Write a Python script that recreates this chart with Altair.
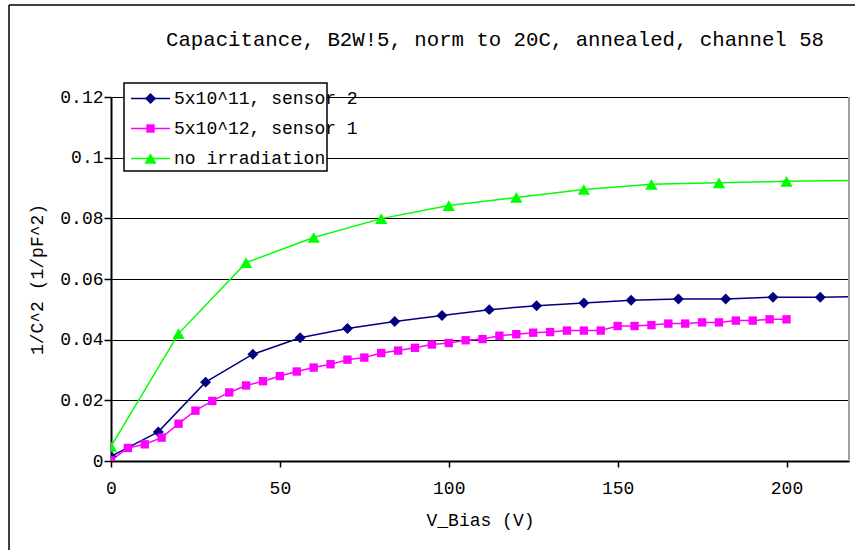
import altair as alt
import pandas as pd

# ---- text ---------------------------------------------------------------
TITLE = "Capacitance, B2W!5, norm to 20C, annealed, channel 58"
X_TITLE = "V_Bias (V)"
Y_TITLE = "1/C^2 (1/pF^2)"

# ---- series -------------------------------------------------------------
series_names = ["5x10^11, sensor 2", "5x10^12, sensor 1", "no irradiation"]
series_colors = ["#000080", "#FF00FF", "#00FF00"]
series_shapes = ["diamond", "square", "triangle-up"]
series_sizes = [120, 70, 150]

# 5x10^11, sensor 2 (last point lies just past the right edge of the axis)
bias_s2 = [0, 14, 28, 42, 56, 70, 84, 98, 112, 126, 140, 154, 168, 182, 196, 210, 224]
inv_c2_s2 = [0.0015, 0.0096, 0.0260, 0.0352, 0.0406, 0.0437, 0.0460, 0.0480, 0.0499,
             0.0512, 0.0521, 0.0530, 0.0534, 0.0534, 0.0540, 0.0540, 0.0543]

# 5x10^12, sensor 1
bias_s1 = [0, 5, 10, 15, 20, 25, 30, 35, 40, 45, 50, 55, 60, 65, 70, 75, 80, 85, 90, 95,
           100, 105, 110, 115, 120, 125, 130, 135, 140, 145, 150, 155, 160, 165, 170, 175,
           180, 185, 190, 195, 200]
inv_c2_s1 = [0.0002, 0.0043, 0.0055, 0.0077, 0.0123, 0.0166, 0.0198, 0.0226, 0.0249, 0.0263,
             0.0280, 0.0295, 0.0308, 0.0319, 0.0334, 0.0341, 0.0356, 0.0364, 0.0373, 0.0384,
             0.0389, 0.0398, 0.0402, 0.0413, 0.0418, 0.0423, 0.0425, 0.0430, 0.0430, 0.0430,
             0.0445, 0.0445, 0.0448, 0.0453, 0.0453, 0.0457, 0.0457, 0.0463, 0.0463, 0.0467,
             0.0467]

# no irradiation (last point lies just past the right edge of the axis)
bias_ref = [0, 20, 40, 60, 80, 100, 120, 140, 160, 180, 200, 220]
inv_c2_ref = [0.0048, 0.0420, 0.0654, 0.0737, 0.0799, 0.0842, 0.0869, 0.0895, 0.0912,
              0.0917, 0.0922, 0.0925]

x_ticks = [0, 50, 100, 150, 200]
y_ticks = [0, 0.02, 0.04, 0.06, 0.08, 0.1, 0.12]
X_MAX = 218.5
Y_MAX = 0.12

W, H = 738, 364
FONT = "Liberation Mono"

rows = []
for name, xs, ys in [(series_names[0], bias_s2, inv_c2_s2),
                     (series_names[1], bias_s1, inv_c2_s1),
                     (series_names[2], bias_ref, inv_c2_ref)]:
    for xv, yv in zip(xs, ys):
        rows.append({"series": name, "bias": xv, "inv_c2": yv})
df = pd.DataFrame(rows)

color_scale = alt.Scale(domain=series_names, range=series_colors)

x_enc = alt.X(
    "bias:Q",
    scale=alt.Scale(domain=[0, X_MAX], nice=False, zero=False),
    axis=alt.Axis(
        values=x_ticks, title=X_TITLE, grid=False,
        domainColor="black", domainWidth=2, tickColor="black", tickSize=6,
        tickWidth=1.5, labelFont=FONT, labelFontSize=18, labelColor="black",
        labelPadding=12, titleFont=FONT, titleFontSize=18, titleFontWeight="normal",
        titleColor="black", titlePadding=14, labelFlush=False,
    ),
)
y_enc = alt.Y(
    "inv_c2:Q",
    scale=alt.Scale(domain=[0, Y_MAX], nice=False),
    axis=alt.Axis(
        values=y_ticks, title=Y_TITLE, grid=True, gridColor="black", gridWidth=1,
        gridOpacity=1, domainColor="black", domainWidth=2, tickColor="black",
        tickSize=7, tickWidth=1.5, labelFont=FONT, labelFontSize=18,
        labelColor="black", labelPadding=1, labelExpr="format(datum.value, '~g')",
        titleFont=FONT, titleFontSize=18, titleFontWeight="normal",
        titleColor="black", titlePadding=13, labelFlush=False,
    ),
)

base = alt.Chart(df)
lines = base.mark_line(strokeWidth=1.5, clip=True).encode(
    x=x_enc, y=y_enc,
    color=alt.Color("series:N", scale=color_scale, legend=None),
    detail="series:N",
)

# one marker layer per series, each with its own shape and size
point_layers = []
for name, shp, sz in zip(series_names, series_shapes, series_sizes):
    point_layers.append(
        base.transform_filter(alt.datum.series == name)
        .mark_point(filled=True, opacity=1, shape=shp, size=sz, clip=True)
        .encode(
            x="bias:Q", y="inv_c2:Q",
            color=alt.Color("series:N", scale=color_scale, legend=None),
        )
    )

one = pd.DataFrame({"k": [0]})

# chart-area frame (left and top edges) and plot-area right edge
frame_left = alt.Chart(one).mark_rule(color="black", strokeWidth=1.5).encode(
    x=alt.value(-102), y=alt.value(-92), y2=alt.value(H + 89))
frame_top = alt.Chart(one).mark_rule(color="black", strokeWidth=1.5).encode(
    x=alt.value(-102), x2=alt.value(W + 6), y=alt.value(-92))
plot_right = alt.Chart(one).mark_rule(color="#A0A0A0", strokeWidth=2).encode(
    x=alt.value(W), y=alt.value(0), y2=alt.value(H))

title = alt.Chart(one).mark_text(
    font=FONT, fontSize=20.7, color="black", align="center", baseline="middle"
).encode(x=alt.value(384), y=alt.value(-57), text=alt.value(TITLE))

# legend box with line + marker samples
legend_layers = [
    alt.Chart(one).mark_rect(fill="white", stroke="black", strokeWidth=1.5).encode(
        x=alt.value(13), x2=alt.value(216), y=alt.value(-14), y2=alt.value(74))
]
row_y = [1.5, 31.5, 61.5]
for name, col, shp, sz, ry in zip(series_names, series_colors, series_shapes,
                                  series_sizes, row_y):
    legend_layers.append(
        alt.Chart(one).mark_rule(color=col, strokeWidth=1.5).encode(
            x=alt.value(20), x2=alt.value(59), y=alt.value(ry)))
    legend_layers.append(
        alt.Chart(one).mark_point(filled=True, opacity=1, color=col, shape=shp,
                                  size=sz).encode(x=alt.value(39.5), y=alt.value(ry)))
    legend_layers.append(
        alt.Chart(one).mark_text(font=FONT, fontSize=18, color="black", align="left",
                                 baseline="middle").encode(
            x=alt.value(63), y=alt.value(ry), text=alt.value(name)))

chart = alt.layer(
    lines, *point_layers, plot_right, frame_left, frame_top, title, *legend_layers
).properties(
    width=W, height=H,
    autosize=alt.AutoSizeParams(type="none"),
    padding={"left": 111, "top": 97, "right": 6, "bottom": 89},
    background="white",
).configure_view(stroke=None)

chart.save("out.html", embed_options={"renderer": "svg", "actions": False})
